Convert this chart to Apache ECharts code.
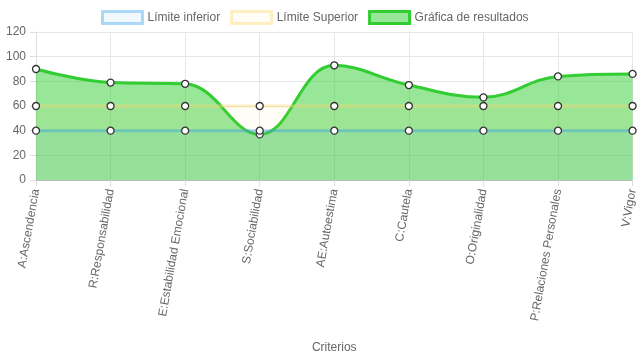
<!DOCTYPE html>
<html><head><meta charset="utf-8">
<script src="https://cdn.jsdelivr.net/npm/echarts@6/dist/echarts.min.js"></script>
<style>html,body{margin:0;padding:0;background:#fff}#c{width:639px;height:360px}</style>
</head><body><div id="c"></div>
<script>
var categories = ['A:Ascendencia','R:Responsabilidad','E:Estabilidad Emocional','S:Sociabilidad','AE:Autoestima','C:Cautela','O:Originalidad','P:Relaciones Personales','V:Vigor'];
var limiteInferior = [40,40,40,40,40,40,40,40,40];
var limiteSuperior = [60,60,60,60,60,60,60,60,60];
var resultados = [90,79,78,37,93,77,67,84,86];
var yTicks = {min:0, max:120, interval:20};

var chart = echarts.init(document.getElementById('c'));
var font = 'Liberation Sans, Arial, sans-serif';
var pt = {symbol:'circle', symbolSize:7, showAllSymbol:true};
chart.setOption({
  animation:false,
  textStyle:{fontFamily:font},
  legend:{
    top:10, left:101, padding:0, itemWidth:40, itemHeight:12, itemGap:10,
    textStyle:{color:'#666', fontSize:12, fontFamily:font},
    data:[
      {name:'Límite inferior', icon:'rect', itemStyle:{color:'rgba(54,162,235,0.07)', borderColor:'rgba(54,162,235,0.4)', borderWidth:3}},
      {name:'Límite Superior', icon:'rect', itemStyle:{color:'rgba(255,206,86,0.05)', borderColor:'rgba(255,220,120,0.45)', borderWidth:3}},
      {name:'Gráfica de resultados', icon:'rect', itemStyle:{color:'rgba(50,205,50,0.5)', borderColor:'rgb(50,205,50)', borderWidth:3}}
    ]
  },
  grid:{left:36, right:4, top:32, bottom:180, containLabel:false},
  xAxis:{
    type:'category', boundaryGap:false, data:categories,
    name:'Criterios', nameLocation:'middle', nameGap:162,
    nameTextStyle:{color:'#666', fontSize:12},
    axisLine:{show:true, lineStyle:{color:'#bbb'}},
    axisTick:{show:true, length:6, lineStyle:{color:'#ddd'}},
    splitLine:{show:true, lineStyle:{color:'#e6e6e6'}},
    axisLabel:{rotate:80, color:'#666', fontSize:12, margin:9, interval:0}
  },
  yAxis:{
    type:'value', min:yTicks.min, max:yTicks.max, interval:yTicks.interval,
    axisLine:{show:true, lineStyle:{color:'#ddd'}},
    axisTick:{show:true, length:6, lineStyle:{color:'#ddd'}},
    splitLine:{show:true, lineStyle:{color:'#e6e6e6'}},
    axisLabel:{color:'#666', fontSize:12, margin:10}
  },
  series:[
    Object.assign({name:'Gráfica de resultados', type:'line', data:resultados, smooth:0.4,
      lineStyle:{color:'rgb(50,205,50)', width:3},
      areaStyle:{color:'rgba(50,205,50,0.5)', origin:'start', opacity:1},
      itemStyle:{color:'#fff', borderColor:'#333', borderWidth:1.3}, z:2}, pt),
    Object.assign({name:'Límite Superior', type:'line', data:limiteSuperior,
      lineStyle:{color:'rgba(255,220,120,0.45)', width:3},
      areaStyle:{color:'rgba(255,206,86,0.05)', origin:'start', opacity:1},
      itemStyle:{color:'#fff', borderColor:'#333', borderWidth:1.3}, z:3}, pt),
    Object.assign({name:'Límite inferior', type:'line', data:limiteInferior,
      lineStyle:{color:'rgba(54,162,235,0.4)', width:3},
      areaStyle:{color:'rgba(54,162,235,0.07)', origin:'start', opacity:1},
      itemStyle:{color:'#fff', borderColor:'#333', borderWidth:1.3}, z:4}, pt)
  ]
});
</script></body></html>
